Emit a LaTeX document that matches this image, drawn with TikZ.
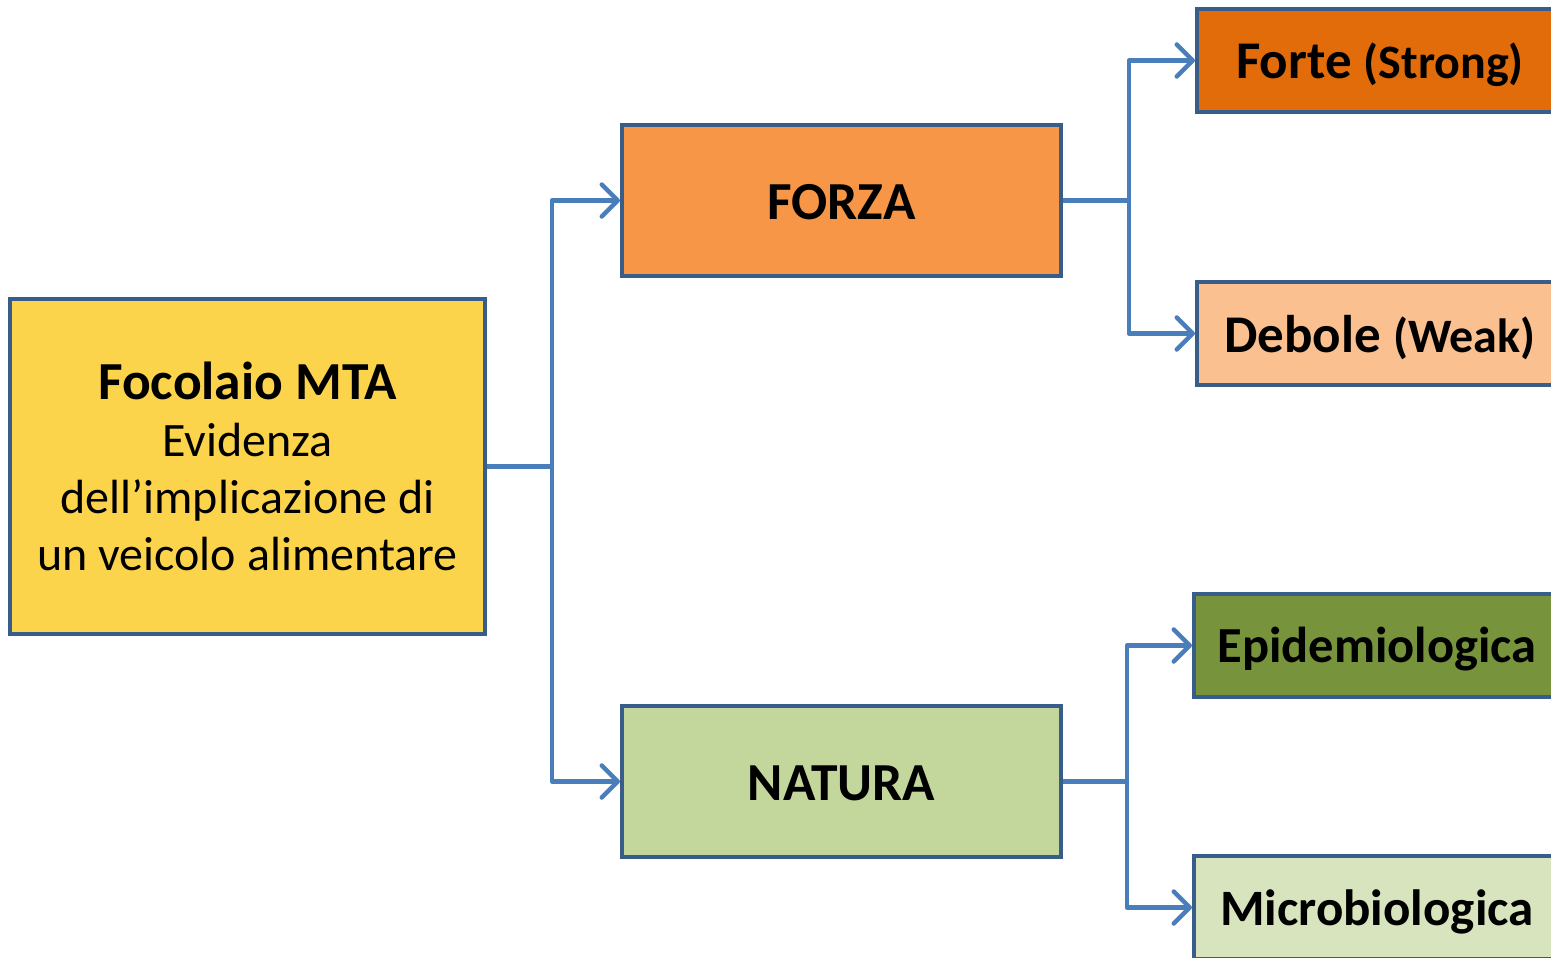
\documentclass[tikz,border=0pt]{standalone}
\usepackage{fontspec}
\setmainfont{Carlito}
\usetikzlibrary{arrows.meta}
\definecolor{bordc}{HTML}{385D8A}
\definecolor{linec}{HTML}{4A7EBB}
\definecolor{yellowc}{HTML}{FCD44B}
\definecolor{forzac}{HTML}{F79646}
\definecolor{naturac}{HTML}{C3D69B}
\definecolor{fortec}{HTML}{E36C0A}
\definecolor{debolec}{HTML}{FAC090}
\definecolor{epic}{HTML}{77933C}
\definecolor{microc}{HTML}{D7E4BD}
\tikzset{
  box/.style={draw=bordc, line width=4pt, rectangle, inner sep=0pt, align=center, text=black},
  conn/.style={draw=linec, line width=4.5pt, line join=round},
  arr/.style={conn, -{Straight Barb[length=16pt,width=32pt,line width=4.5pt,round]}},
  bigbold/.style={font=\fontsize{53.5}{62}\selectfont\bfseries, text height=38pt, text depth=0pt},
}
\begin{document}
\begin{tikzpicture}[x=1pt,y=-1pt]
\clip (0,0) rectangle (1551,958);
\fill[white] (0,0) rectangle (1551,958);
\node[box, fill=yellowc, minimum width=475pt, minimum height=335pt, font=\fontsize{48}{57}\selectfont] (foc) at (247.5,466.5)
  {{\fontsize{53.5}{57}\selectfont\bfseries Focolaio MTA}\\Evidenza\\dell’implicazione di\\un veicolo alimentare};
\node[box, fill=forzac, minimum width=439pt, minimum height=151pt, bigbold] (forza) at (841.5,200.5) {FORZA};
\node[box, fill=naturac, minimum width=439pt, minimum height=151pt, bigbold] (natura) at (841.5,781.5) {NATURA};
\node[box, fill=fortec, minimum width=366pt, minimum height=103pt, font=\bfseries, text depth=0pt] (forte) at (1380,60.5)
  {{\fontsize{53}{60}\selectfont Forte\ }{\fontsize{48}{56}\selectfont (Strong)}};
\node[box, fill=debolec, minimum width=366pt, minimum height=103pt, font=\bfseries, text depth=0pt] (debole) at (1380,333.5)
  {{\fontsize{53}{60}\selectfont Debole\ }{\fontsize{48}{56}\selectfont (Weak)}};
\node[box, fill=epic, minimum width=366pt, minimum height=103pt, font=\fontsize{50.5}{59}\selectfont\bfseries, text depth=2pt] (epi) at (1377,645.5) {Epidemiologica};
\node[box, fill=microc, minimum width=366pt, minimum height=103pt, font=\fontsize{51}{59}\selectfont\bfseries, text depth=0pt] (micro) at (1377,907.5) {Microbiologica};
\coordinate (j1) at (552,466.5);
\coordinate (j2) at (1129,200.5);
\coordinate (j3) at (1127,781.5);
\draw[conn] (foc.east) -- (j1);
\draw[arr] (j1) |- (forza.west);
\draw[arr] (j1) |- (natura.west);
\draw[conn] (forza.east) -- (j2);
\draw[arr] (j2) |- (forte.west);
\draw[arr] (j2) |- (debole.west);
\draw[conn] (natura.east) -- (j3);
\draw[arr] (j3) |- (epi.west);
\draw[arr] (j3) |- (micro.west);
\end{tikzpicture}
\end{document}
